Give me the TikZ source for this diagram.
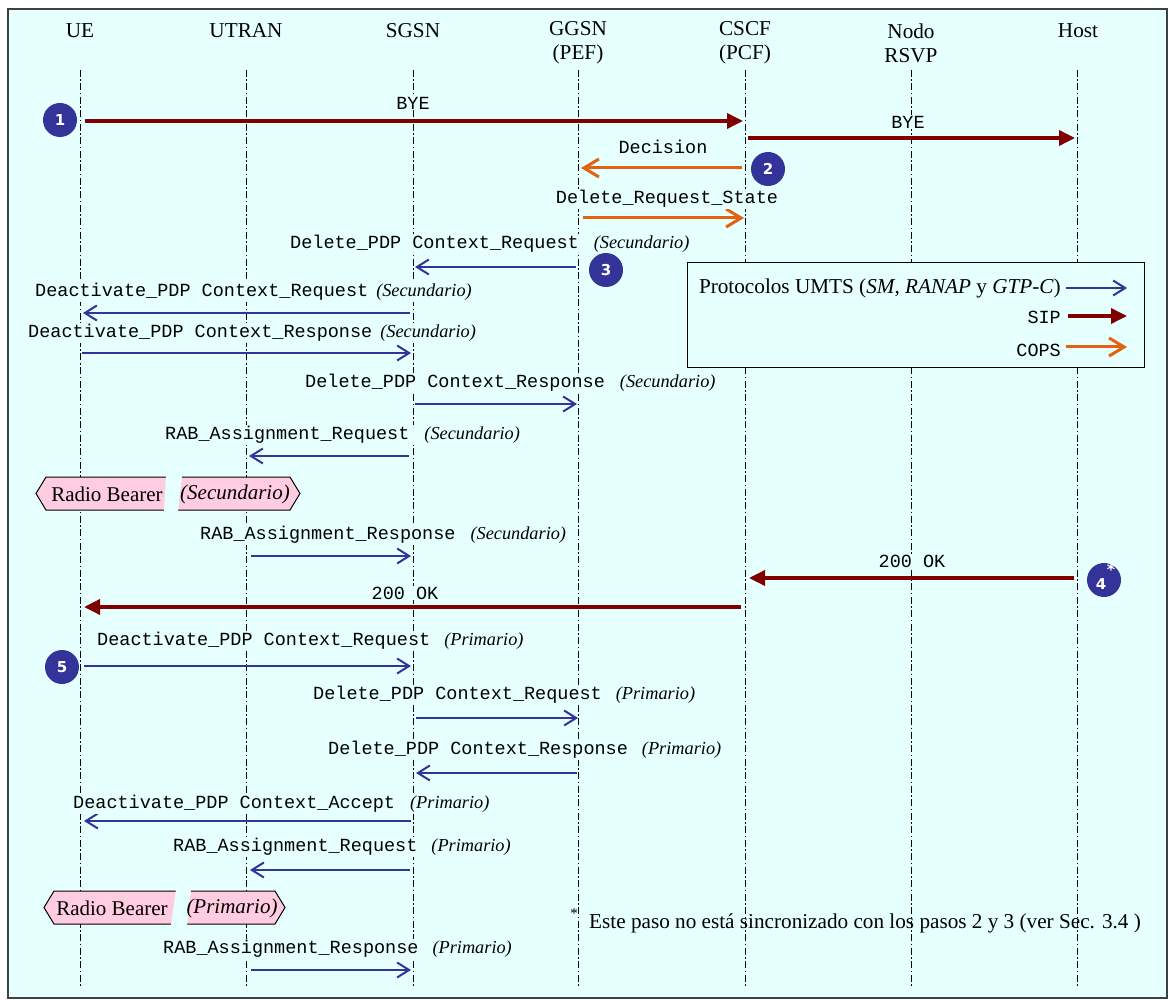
\documentclass[tikz,border=0pt]{standalone}
\usepackage{fontspec}
\setmainfont{Liberation Serif}
\setmonofont{Liberation Mono}
\setsansfont{DejaVu Sans}
\usetikzlibrary{arrows.meta}
\definecolor{bgc}{HTML}{E6FFFF}
\definecolor{umtsc}{HTML}{333399}
\definecolor{sipc}{HTML}{800000}
\definecolor{copsc}{HTML}{E2620F}
\definecolor{rbc}{HTML}{FFCCE0}
\definecolor{framec}{HTML}{404040}
\newcommand\mono{\fontsize{18.5}{20}\selectfont\ttfamily}
\newcommand\ann[1]{{\fontsize{18.3}{20}\selectfont\rmfamily\itshape #1}}
\newcommand\msg[5]{%
  \coordinate (#1s) at (#3,#2);
  \coordinate (#1e) at (#4,#2);
  \draw[#5] (#1s) -- (#1e);}
\begin{document}
\begin{tikzpicture}[x=1pt,y=-1pt,
  hdr/.style={font=\fontsize{21.2}{24}\selectfont, align=center, inner sep=0pt},
  life/.style={line width=1pt, dash pattern=on 7pt off 2.5pt on 1.5pt off 2.5pt},
  umts/.style={draw=umtsc, line width=2pt, -{Straight Barb[length=12pt,width=15pt]}},
  sip/.style={draw=sipc, line width=3.5pt, -{Triangle[length=16pt,width=15pt]}},
  cops/.style={draw=copsc, line width=3pt, -{Straight Barb[length=15pt,width=18pt]}},
  lbl/.style={fill=bgc, inner sep=1pt},
  mk/.style={circle, fill=umtsc, minimum size=34pt, inner sep=0pt, text=white,
             font=\fontsize{15}{16}\selectfont\sffamily\bfseries},
  rbtxt/.style={inner sep=0pt, font=\fontsize{21}{22}\selectfont}
]
\useasboundingbox (0,0) rectangle (1173,1000);
\draw[framec, line width=1.5pt, fill=bgc] (8,9) rectangle (1167,998);

% headers
\node[hdr] (hUE) at (80,31) {UE};
\node[hdr] (hUTRAN) at (246,31) {UTRAN};
\node[hdr] (hSGSN) at (413,31) {SGSN};
\node[hdr] (hGGSN) at (578,43) {GGSN\\(PEF)};
\node[hdr] (hCSCF) at (745,43) {CSCF\\(PCF)};
\node[hdr] (hRSVP) at (911,43) {Nodo\\RSVP};
\node[hdr] (hHost) at (1078,31) {Host};

% lifelines
\foreach \n/\x in {UE/80,UTRAN/246,SGSN/413,GGSN/578,CSCF/745,RSVP/911,Host/1077}{
  \coordinate (\n-top) at (\x,70);
  \coordinate (\n-bot) at (\x,988);
  \draw[life] (\n-top) -- (\n-bot);
}

% messages
\msg{m1}{121}{85}{743}{sip}
\msg{m2}{138}{748}{1075}{sip}
\msg{m3}{168}{742}{581}{cops}
\msg{m4}{218}{583}{744}{cops}
\msg{m5}{267}{576}{415}{umts}
\msg{m6}{313}{410}{83}{umts}
\msg{m7}{353}{82}{411}{umts}
\msg{m8}{404}{415}{577}{umts}
\msg{m9}{456}{409}{249}{umts}
\msg{m10}{556}{251}{411}{umts}
\msg{m11}{578}{1074}{749}{sip}
\msg{m12}{607}{741}{84}{sip}
\msg{m13}{666}{84}{411}{umts}
\msg{m14}{718}{416}{578}{umts}
\msg{m15}{773}{577}{416}{umts}
\msg{m16}{821}{411}{84}{umts}
\msg{m17}{870}{410}{250}{umts}
\msg{m18}{970}{251}{411}{umts}

% labels
\node[lbl] (l1) at (413,103) {\mono BYE};
\node[lbl] (l2) at (908,122) {\mono BYE};
\node[lbl] (l3) at (663,147) {\mono Decision};
\node[lbl] (l4) at (667,199) {\mono Delete\_Request\_State};
\node[lbl,anchor=west] (l5) at (289,244) {\mono Delete\_PDP Context\_Request\hspace{15pt}\ann{(Secundario)}};
\node[lbl,anchor=west] (l6) at (34,292) {\mono Deactivate\_PDP Context\_Request\hspace{8pt}\ann{(Secundario)}};
\node[lbl,anchor=west] (l7) at (27,333) {\mono Deactivate\_PDP Context\_Response\hspace{8pt}\ann{(Secundario)}};
\node[lbl,anchor=west] (l8) at (304,383) {\mono Delete\_PDP Context\_Response\hspace{15pt}\ann{(Secundario)}};
\node[lbl,anchor=west] (l9) at (164,435) {\mono RAB\_Assignment\_Request\hspace{15pt}\ann{(Secundario)}};
\node[lbl,anchor=west] (l10) at (199,535) {\mono RAB\_Assignment\_Response\hspace{15pt}\ann{(Secundario)}};
\node[lbl] (l11) at (912,561) {\mono 200 OK};
\node[lbl] (l12) at (405,593) {\mono 200 OK};
\node[lbl,anchor=west] (l13) at (96,641) {\mono Deactivate\_PDP Context\_Request\hspace{14pt}\ann{(Primario)}};
\node[lbl,anchor=west] (l14) at (312,695) {\mono Delete\_PDP Context\_Request\hspace{14pt}\ann{(Primario)}};
\node[lbl,anchor=west] (l15) at (327,750) {\mono Delete\_PDP Context\_Response\hspace{14pt}\ann{(Primario)}};
\node[lbl,anchor=west] (l16) at (72,804) {\mono Deactivate\_PDP Context\_Accept\hspace{15pt}\ann{(Primario)}};
\node[lbl,anchor=west] (l17) at (172,847) {\mono RAB\_Assignment\_Request\hspace{14pt}\ann{(Primario)}};
\node[lbl,anchor=west] (l18) at (162,949) {\mono RAB\_Assignment\_Response\hspace{14pt}\ann{(Primario)}};

% radio bearer boxes
\draw[fill=rbc, line width=1pt] (36,493.5) -- (46,477) -- (290,477) -- (300,493.5) -- (290,510) -- (46,510) -- cycle;
\fill[bgc] (166,475.5) -- (182,475.5) -- (178,511.5) -- (164,511.5) -- cycle;
\node[rbtxt] (rb1a) at (107,494) {Radio Bearer};
\node[rbtxt] (rb1b) at (235,494) {\itshape (Secundario)};

\draw[fill=rbc, line width=1pt] (44,907.5) -- (54,891) -- (275,891) -- (285,907.5) -- (275,924) -- (54,924) -- cycle;
\fill[bgc] (176,889.5) -- (191,889.5) -- (187,925.5) -- (171,925.5) -- cycle;
\node[rbtxt] (rb2a) at (112,908) {Radio Bearer};
\node[rbtxt] (rb2b) at (232,908) {\itshape (Primario)};

% legend
\node[draw=black, line width=1pt, fill=bgc, minimum width=457pt, minimum height=105pt,
      anchor=north west, inner sep=0pt] (legend) at (687,262) {};
\node[anchor=east, inner sep=0pt, font=\fontsize{21.2}{22}\selectfont] (lgt1) at (1061,288)
  {Protocolos UMTS (\textit{SM}, \textit{RANAP} y \textit{GTP-C})};
\node[anchor=east, inner sep=0pt] (lgt2) at (1061,317) {\mono SIP};
\node[anchor=east, inner sep=0pt] (lgt3) at (1061,350) {\mono COPS};
\msg{lg1}{288}{1066}{1127}{umts}
\msg{lg2}{316}{1068}{1127}{sip}
\msg{lg3}{347}{1066}{1127}{cops}

% footnote
\node[inner sep=0pt, font=\fontsize{15}{16}\selectfont] (fnstar) at (574,914) {*};
\node[anchor=west, inner sep=0pt, font=\fontsize{21.2}{22}\selectfont] (fn) at (589,923)
  {Este paso no está sincronizado con los pasos 2 y 3 (ver Sec. 3.4 )};

% step markers
\node[mk] (k1) at (60,120) {1};
\node[mk] (k2) at (768,169) {2};
\node[mk] (k3) at (606,270) {3};
\node[mk] (k4) at (1104,580) {};
\node[text=white, inner sep=0pt, font=\fontsize{15}{16}\selectfont\sffamily\bfseries] (k4n) at (1101,584) {4};
\node[text=white, inner sep=0pt, font=\fontsize{16}{16}\selectfont\sffamily\bfseries] (k4s) at (1111,570) {*};
\node[mk] (k5) at (62,667) {5};
\end{tikzpicture}
\end{document}
